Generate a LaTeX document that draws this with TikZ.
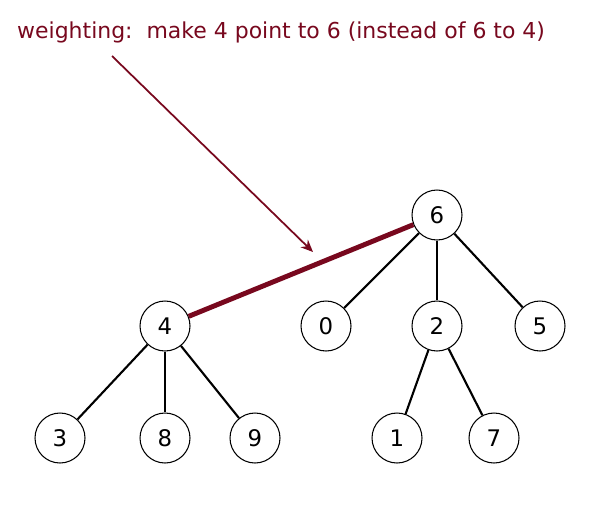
\documentclass[tikz,border=0pt]{standalone}
\usepackage{fontspec}
\setmainfont{DejaVu Sans}
\usepackage{xcolor}
\usetikzlibrary{arrows.meta}
\definecolor{darkred}{RGB}{120,8,30}

\begin{document}
\begin{tikzpicture}[x=0.02cm,y=-0.02cm,
  every node/.style={font=\fontsize{12.5}{14}\selectfont},
  vertex/.style={circle,draw,line width=0.6pt,minimum size=1cm,inner sep=0pt,font=\fontsize{13}{15}\selectfont},
  link/.style={line width=1.2pt},
  heavy/.style={darkred,line width=2.8pt}]
\useasboundingbox (0,0) rectangle (590,504);
\node[anchor=west,text=darkred] (note) at (11,32) {weighting:\ \ make 4 point to 6 (instead of 6 to 4)};
\node[vertex] (n6) at (437,215) {6};
\node[vertex] (n4) at (165,326) {4};
\node[vertex] (n0) at (326,326) {0};
\node[vertex] (n2) at (437,326) {2};
\node[vertex] (n5) at (540,326) {5};
\node[vertex] (n3) at (60,438) {3};
\node[vertex] (n8) at (165,438) {8};
\node[vertex] (n9) at (255,438) {9};
\node[vertex] (n1) at (397,438) {1};
\node[vertex] (n7) at (494,438) {7};
\coordinate (tail) at (112,56);
\coordinate (tip) at (313,252);
\draw[heavy] (n4) -- (n6);
\draw[link] (n6) -- (n0);
\draw[link] (n6) -- (n2);
\draw[link] (n6) -- (n5);
\draw[link] (n4) -- (n3);
\draw[link] (n4) -- (n8);
\draw[link] (n4) -- (n9);
\draw[link] (n2) -- (n1);
\draw[link] (n2) -- (n7);
\draw[darkred,line width=1pt,-{Stealth[length=7pt,width=6pt]}] (tail) -- (tip);
\end{tikzpicture}
\end{document}
